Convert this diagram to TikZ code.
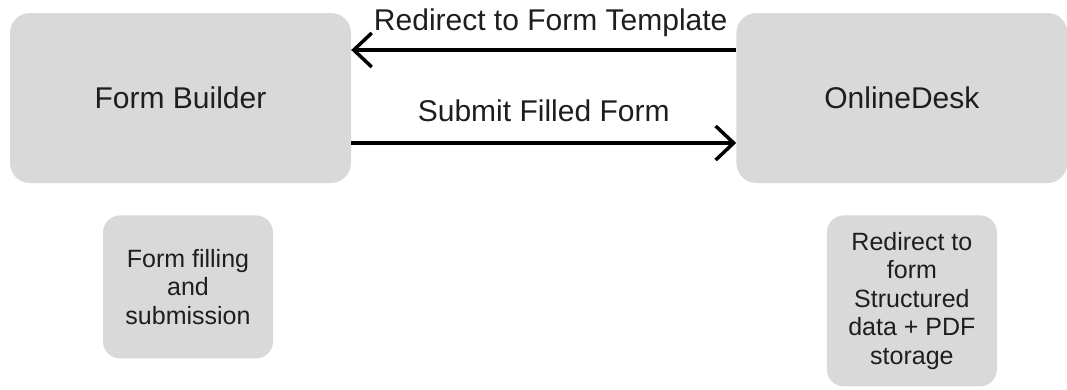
\documentclass[tikz,border=0pt]{standalone}
\usepackage{fontspec}
\setmainfont{Liberation Sans}
\usepackage{xcolor}
\usepackage{tikz}
\usetikzlibrary{arrows.meta, positioning}

\definecolor{boxgray}{HTML}{D9D9D9}
\definecolor{inkdark}{HTML}{1E1E1E}

\begin{document}
\begin{tikzpicture}[
      x=1pt, y=-1pt,
      bigbox/.style={fill=boxgray, rounded corners=20pt, inner sep=0pt,
                     minimum height=170pt, text=inkdark,
                     font=\fontsize{30}{36}\selectfont},
      notebox/.style={fill=boxgray, rounded corners=17pt, inner sep=0pt,
                      minimum width=170pt, text=inkdark, align=center,
                      font=\fontsize{25}{28.5}\selectfont},
      arr/.style={-{Straight Barb[length=18pt, width=34pt]}, line width=3.5pt},
      lbl/.style={anchor=base, text=inkdark, font=\fontsize{30}{36}\selectfont}
    ]
      \useasboundingbox (0,0) rectangle (1067,389);
      \node[bigbox, minimum width=341pt] (builder) at (180.5,98) {Form Builder};
      \node[bigbox, minimum width=331pt, right=385pt of builder] (desk) {OnlineDesk};
      \node[notebox, minimum height=143pt, below=32pt of builder, xshift=7.5pt] (filling)
        {Form filling\\and\\submission};
      \node[notebox, minimum height=171pt, below=32pt of desk, xshift=10pt] (storage)
        {Redirect to\\form\\Structured\\data + PDF\\storage};
      % requests between the two services
      \draw[arr] ([yshift=48pt]desk.west) -- ([yshift=48pt]builder.east)
        node[lbl, midway, yshift=20pt, xshift=7pt] (redir) {Redirect to Form Template};
      \draw[arr] ([yshift=-45pt]builder.east) -- ([yshift=-45pt]desk.west)
        node[lbl, midway, yshift=22pt] (submit) {Submit Filled Form};
    \end{tikzpicture}
\end{document}
